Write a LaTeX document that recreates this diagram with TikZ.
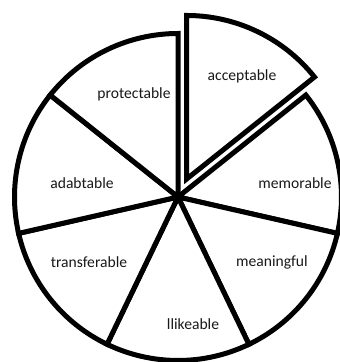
\documentclass[tikz,border=0pt]{standalone}
\usepackage{fontspec}
\setmainfont{Carlito}
\begin{document}
\begin{tikzpicture}[x=1pt,y=1pt,
  slice/.style={draw=black,line width=5pt,fill=white},
  lbl/.style={font=\fontsize{15.6}{18}\selectfont,text=black!90,inner sep=0pt}]
\useasboundingbox (0,0) rectangle (340,362);
\coordinate (c) at (178,165);
\foreach \i in {1,...,6} {
  \pgfmathsetmacro\a{90-51.428571*\i}
  \pgfmathsetmacro\b{\a-51.428571}
  \draw[slice] (c) -- ++(\a:163.5) arc[start angle=\a, end angle=\b, radius=163.5pt] -- cycle;
}
\coordinate (c2) at ([shift={(64.2857:20)}]c);
\draw[slice] (c2) -- ++(90:163.5) arc[start angle=90, end angle=38.5714, radius=163.5pt] -- cycle;
\node[lbl] (acc) at (242,286) {acceptable};
\node[lbl] (pro) at (134,268) {protectable};
\node[lbl] (mem) at (295,179) {memorable};
\node[lbl] (ada) at (82,179) {adabtable};
\node[lbl] (mea) at (272,100) {meaningful};
\node[lbl] (tra) at (89,100) {transferable};
\node[lbl] (lli) at (193,38) {llikeable};
\end{tikzpicture}
\end{document}
